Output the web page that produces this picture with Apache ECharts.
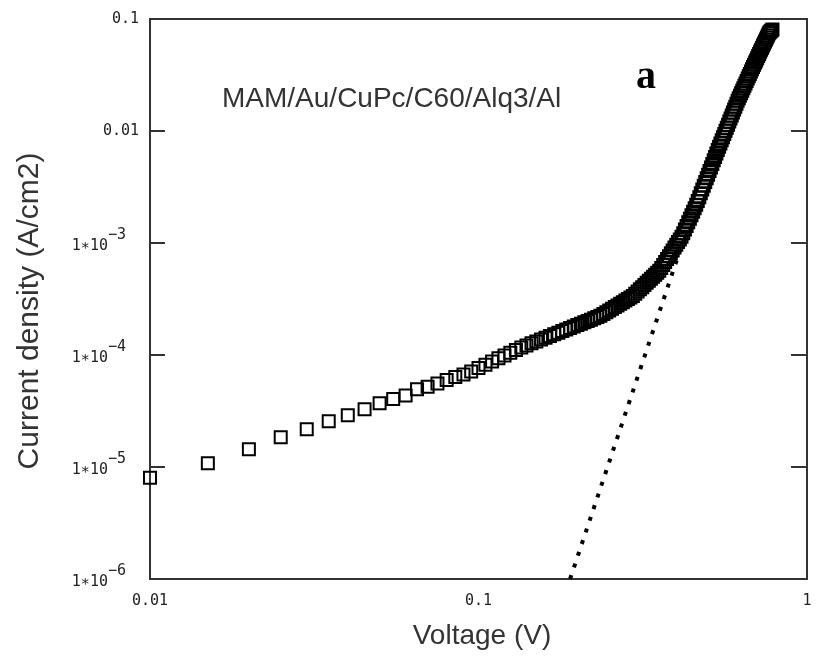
<!DOCTYPE html>
<html>
<head>
<meta charset="utf-8">
<script src="https://cdn.jsdelivr.net/npm/echarts/dist/echarts.min.js"></script>
<style>
html,body{margin:0;padding:0;background:#fff;}
#chart{width:817px;height:661px;}
</style>
</head>
<body>
<div id="chart"></div>
<script>
// Measured J-V data (voltage in V, current density in A/cm2)
const voltage = [0.010,0.015,0.020,0.025,0.030,0.035,0.040,0.045,0.050,0.055,0.060,0.065,0.070,0.075,0.080,0.085,0.090,0.095,0.100,
0.105,0.110,0.115,0.120,0.125,0.130,0.135,0.140,0.145,0.150,0.155,0.160,0.165,0.170,0.175,0.180,0.185,0.190,0.195,0.200,
0.205,0.210,0.215,0.220,0.225,0.230,0.235,0.240,0.245,0.250,0.255,0.260,0.265,0.270,0.275,0.280,0.285,0.290,0.295,0.300,
0.305,0.310,0.315,0.320,0.325,0.330,0.335,0.340,0.345,0.350,0.355,0.360,0.365,0.370,0.375,0.380,0.385,0.390,0.395,0.400,
0.405,0.410,0.415,0.420,0.425,0.430,0.435,0.440,0.445,0.450,0.455,0.460,0.465,0.470,0.475,0.480,0.485,0.490,0.495,0.500,
0.505,0.510,0.515,0.520,0.525,0.530,0.535,0.540,0.545,0.550,0.555,0.560,0.565,0.570,0.575,0.580,0.585,0.590,0.595,0.600,
0.605,0.610,0.615,0.620,0.625,0.630,0.635,0.640,0.645,0.650,0.655,0.660,0.665,0.670,0.675,0.680,0.685,0.690,0.695,0.700,
0.705,0.710,0.715,0.720,0.725,0.730,0.735,0.740,0.745,0.750,0.755,0.760,0.765,0.770,0.775,0.780,0.785];

const currentDensity = [8.0e-6,1.08e-5,1.44e-5,1.84e-5,2.17e-5,2.56e-5,2.90e-5,3.27e-5,3.71e-5,4.05e-5,4.36e-5,4.94e-5,5.21e-5,5.58e-5,5.98e-5,6.37e-5,6.70e-5,7.13e-5,7.66e-5,
8.20e-5,8.76e-5,9.33e-5,9.91e-5,1.050e-4,1.110e-4,1.167e-4,1.218e-4,1.270e-4,1.321e-4,1.373e-4,1.425e-4,1.477e-4,1.531e-4,1.584e-4,1.636e-4,1.690e-4,1.743e-4,1.797e-4,1.851e-4,
1.905e-4,1.960e-4,2.014e-4,2.069e-4,2.124e-4,2.180e-4,2.239e-4,2.325e-4,2.412e-4,2.500e-4,2.590e-4,2.681e-4,2.773e-4,2.867e-4,2.962e-4,3.059e-4,3.157e-4,3.256e-4,3.357e-4,3.517e-4,
3.685e-4,3.858e-4,4.036e-4,4.220e-4,4.409e-4,4.603e-4,4.802e-4,5.006e-4,5.217e-4,5.433e-4,5.655e-4,5.973e-4,6.358e-4,6.763e-4,7.186e-4,7.630e-4,8.096e-4,8.584e-4,9.095e-4,9.627e-4,
1.019e-3,1.077e-3,1.137e-3,1.221e-3,1.318e-3,1.421e-3,1.531e-3,1.648e-3,1.773e-3,1.905e-3,2.046e-3,2.195e-3,2.369e-3,2.567e-3,2.778e-3,3.004e-3,3.246e-3,3.505e-3,3.782e-3,4.076e-3,
4.392e-3,4.729e-3,5.086e-3,5.467e-3,5.873e-3,6.305e-3,6.755e-3,7.226e-3,7.727e-3,8.257e-3,8.816e-3,9.410e-3,1.004e-2,1.070e-2,1.140e-2,1.214e-2,1.292e-2,1.374e-2,1.462e-2,1.553e-2,
1.649e-2,1.751e-2,1.858e-2,1.961e-2,2.065e-2,2.174e-2,2.288e-2,2.407e-2,2.531e-2,2.661e-2,2.796e-2,2.937e-2,3.083e-2,3.236e-2,3.396e-2,3.562e-2,3.733e-2,3.905e-2,4.084e-2,4.271e-2,
4.464e-2,4.667e-2,4.875e-2,5.091e-2,5.315e-2,5.548e-2,5.789e-2,6.039e-2,6.298e-2,6.565e-2,6.843e-2,7.131e-2,7.428e-2,7.611e-2,7.754e-2,7.900e-2,8.05e-2];

// Dotted fit line end points
const fitVoltage = [0.19, 0.41];
const fitCurrent = [1e-6, 8.5e-4];

// Tick labels
const xTickLabels = ['0.01', '0.1', '1'];
const yTickBase = ['1\u221710', '1\u221710', '1\u221710', '1\u221710', '0.01', '0.1'];
const yTickExp = ['\u22126', '\u22125', '\u22124', '\u22123', '', ''];

const chart = echarts.init(document.getElementById('chart'));
const tickFont = '"DejaVu Sans Mono", monospace';
const scatterData = voltage.map((v, i) => [v, currentDensity[i]]);
const fitData = fitVoltage.map((v, i) => [v, fitCurrent[i]]);

chart.setOption({
  animation: false,
  backgroundColor: '#fff',
  grid: {left: 150, top: 19, width: 657, height: 560, show: true, borderColor: '#333', borderWidth: 2, backgroundColor: 'transparent'},
  xAxis: {
    type: 'log', logBase: 10, min: 0.01, max: 1,
    axisLine: {show: false}, axisTick: {show: false}, splitLine: {show: false},
    axisLabel: {
      margin: 15, color: '#222', fontFamily: tickFont, fontSize: 15,
      formatter: function (v) { return xTickLabels[Math.round(Math.log10(v)) + 2]; }
    }
  },
  yAxis: [{
    type: 'log', logBase: 10, min: 1e-6, max: 0.1, position: 'left',
    axisLine: {show: false}, splitLine: {show: false},
    axisTick: {show: true, inside: true, length: 15, lineStyle: {color: '#333', width: 2}},
    axisLabel: {
      margin: 11, color: '#222', fontFamily: tickFont, fontSize: 15,
      formatter: function (v) {
        const i = Math.round(Math.log10(v)) + 6;
        if (yTickExp[i]) return '{b|' + yTickBase[i] + '}{s|' + yTickExp[i] + '}';
        return yTickBase[i];
      },
      rich: {
        b: {fontFamily: tickFont, fontSize: 15, color: '#222', lineHeight: 16, padding: [6, 0, 0, 0]},
        s: {fontFamily: tickFont, fontSize: 15, color: '#222', lineHeight: 16, padding: [0, 13, 16, 0]}
      }
    }
  }, {
    type: 'log', logBase: 10, min: 1e-6, max: 0.1, position: 'right',
    axisLine: {show: false}, splitLine: {show: false}, axisLabel: {show: false},
    axisTick: {show: true, inside: true, length: 16, lineStyle: {color: '#333', width: 2}}
  }],
  series: [{
    type: 'line', data: fitData, symbol: 'none', silent: true,
    lineStyle: {color: '#000', width: 4, type: [4, 8.3], cap: 'butt', opacity: 1}
  }, {
    type: 'scatter', data: scatterData, symbol: 'rect', symbolSize: 12, silent: true,
    itemStyle: {color: 'rgba(0,0,0,0)', borderColor: '#000', borderWidth: 2, opacity: 1}
  }],
  graphic: [
    {type: 'text', left: 222, top: 85, style: {text: 'MAM/Au/CuPc/C60/Alq3/Al', fontFamily: '"Liberation Sans", Arial, sans-serif', fontSize: 28, fill: '#333'}},
    {type: 'text', x: 646, y: 78, style: {text: 'a', fontFamily: '"Liberation Serif", "Times New Roman", serif', fontWeight: 'bold', fontSize: 40, fill: '#000', align: 'center', verticalAlign: 'middle'}},
    {type: 'text', x: 482, y: 636, style: {text: 'Voltage (V)', fontFamily: '"Liberation Sans", Arial, sans-serif', fontSize: 28, fill: '#333', align: 'center', verticalAlign: 'middle'}},
    {type: 'text', x: 30, y: 311, rotation: Math.PI / 2, style: {text: 'Current density (A/cm2)', fontFamily: '"Liberation Sans", Arial, sans-serif', fontSize: 30, fill: '#333', align: 'center', verticalAlign: 'middle'}}
  ]
});
</script>
</body>
</html>
